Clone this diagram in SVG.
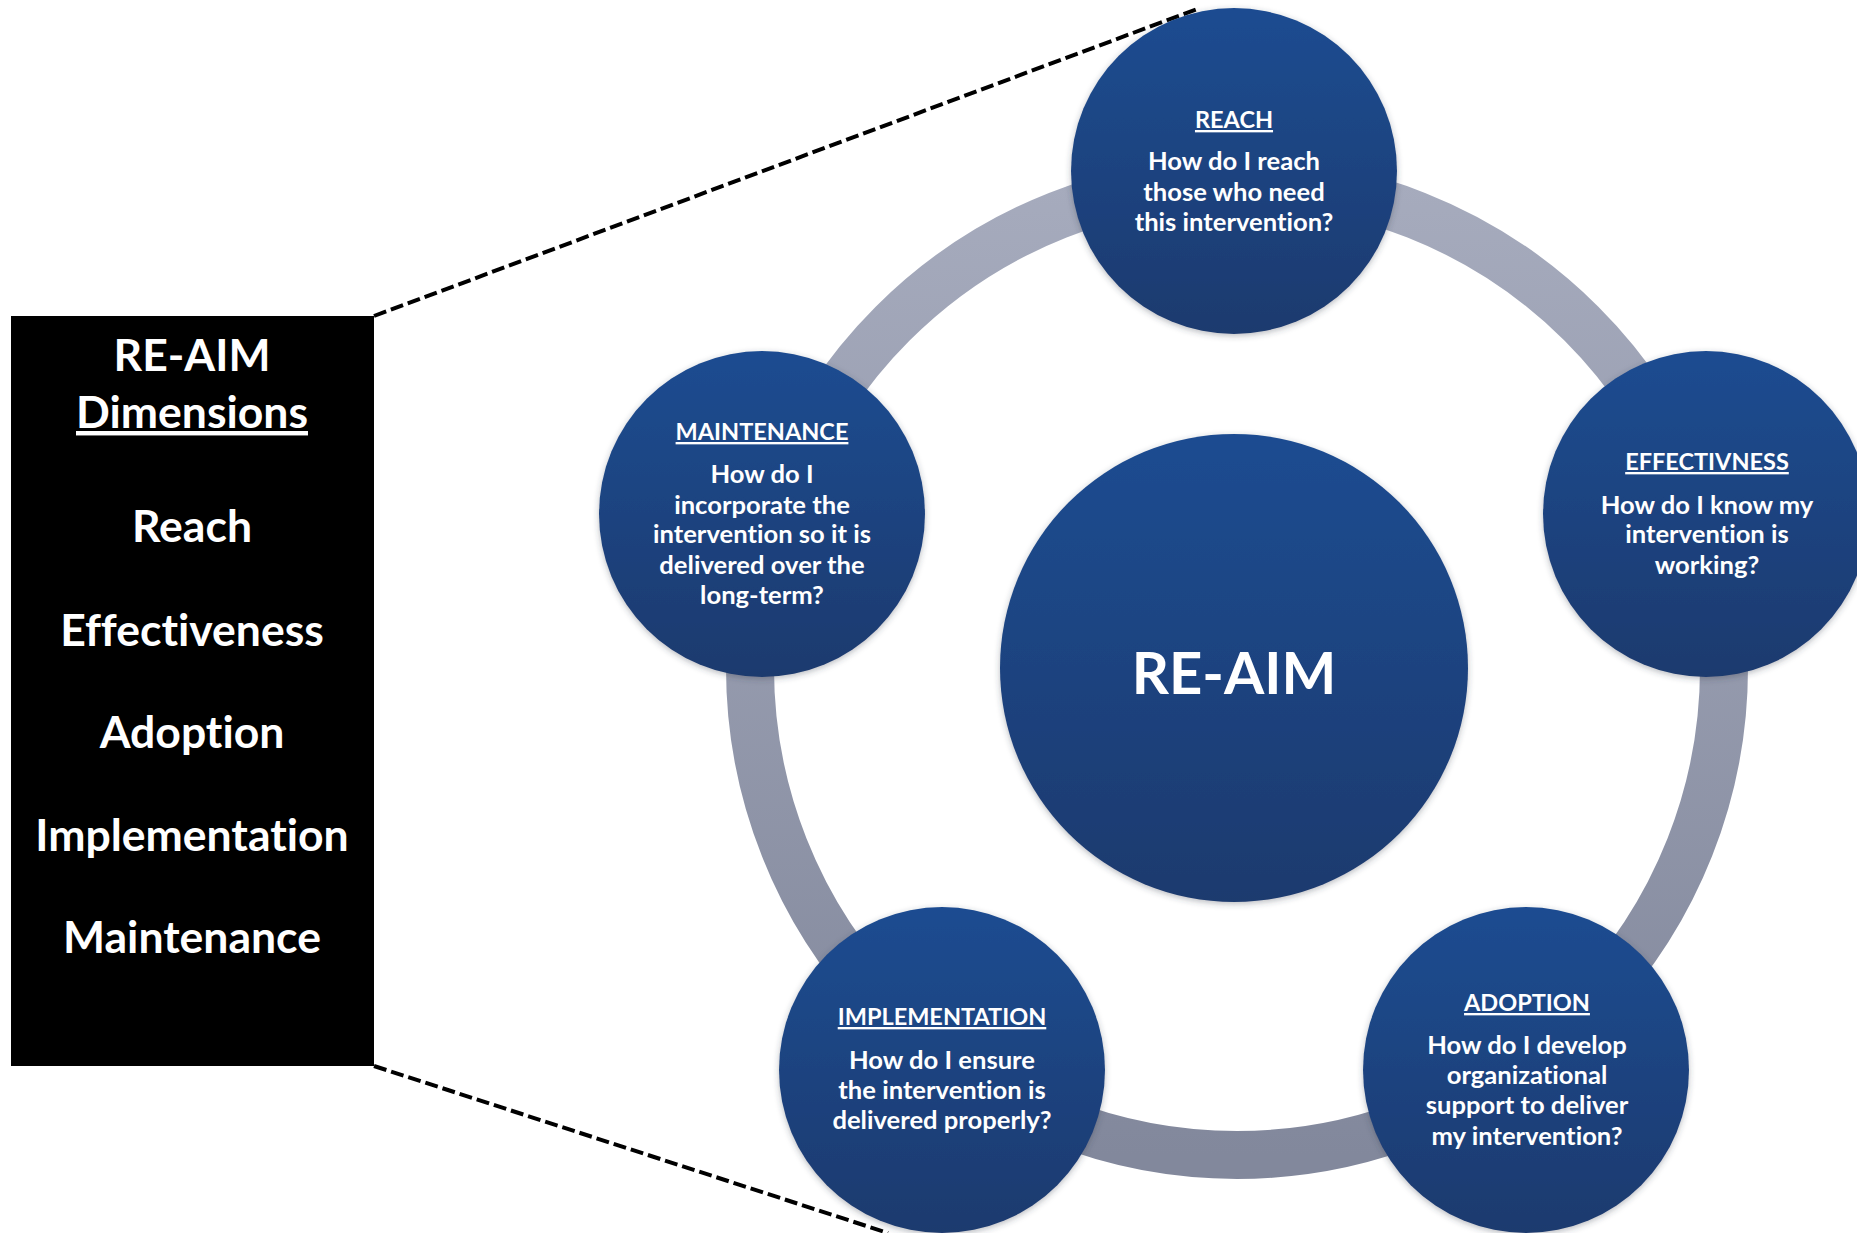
<svg xmlns="http://www.w3.org/2000/svg" width="1857" height="1233" viewBox="0 0 1857 1233">
  <style>
    text { font-family: Lato, "Open Sans", "Liberation Sans", sans-serif; font-weight: 700; fill: #ffffff; text-anchor: middle; font-variant-ligatures: none; }
    .box-t { font-size: 44.5px; }
    .head { font-size: 23.5px; text-decoration: underline; }
    .body { font-size: 25.6px; }
    .big { font-size: 58px; }
    .dash { fill: none; stroke: #000000; stroke-width: 4; stroke-dasharray: 13 5; }
    .node { fill: url(#blue); filter: url(#shadow); }
  </style>
  <defs>
    <linearGradient id="blue" x1="0" y1="0" x2="0" y2="1">
      <stop offset="0" stop-color="#1b4c91"/>
      <stop offset="1" stop-color="#1e3a6e"/>
    </linearGradient>
    <linearGradient id="ringg" x1="0" y1="0" x2="0" y2="1">
      <stop offset="0" stop-color="#a6abbd"/>
      <stop offset="1" stop-color="#82889c"/>
    </linearGradient>
    <filter id="shadow" x="-10%" y="-10%" width="120%" height="120%">
      <feDropShadow dx="0" dy="2" stdDeviation="3" flood-color="#333a4a" flood-opacity="0.35"/>
    </filter>
  </defs>
  <rect width="1857" height="1233" fill="#ffffff"/>

  <g id="connectors">
    <circle id="ring" cx="1237" cy="668" r="487" fill="none" stroke="url(#ringg)" stroke-width="48"/>
    <line class="dash" x1="374" y1="316" x2="1200" y2="8"/>
    <line class="dash" x1="374" y1="1066" x2="888" y2="1233"/>
  </g>

  <g id="dimensions-box">
    <rect x="11" y="316" width="363" height="750" fill="#000000"/>
    <text class="box-t" x="192" y="371">RE-AIM</text>
    <text class="box-t" x="192" y="428" text-decoration="underline">Dimensions</text>
    <text class="box-t" x="192" y="542">Reach</text>
    <text class="box-t" x="192" y="646">Effectiveness</text>
    <text class="box-t" x="192" y="748">Adoption</text>
    <text class="box-t" x="192" y="851">Implementation</text>
    <text class="box-t" x="192" y="953">Maintenance</text>
  </g>

  <g id="center">
    <circle class="node" cx="1234" cy="668" r="234"/>
    <text class="big" x="1234" y="694">RE-AIM</text>
  </g>

  <g id="reach">
    <circle class="node" cx="1234" cy="171" r="163"/>
    <text class="head" x="1234" y="128">REACH</text>
    <text class="body" x="1234" y="170">How do I reach</text>
    <text class="body" x="1234" y="201">those who need</text>
    <text class="body" x="1234" y="231">this intervention?</text>
  </g>

  <g id="effectiveness">
    <circle class="node" cx="1706" cy="514" r="163"/>
    <text class="head" x="1707" y="470">EFFECTIVNESS</text>
    <text class="body" x="1707" y="514">How do I know my</text>
    <text class="body" x="1707" y="543">intervention is</text>
    <text class="body" x="1707" y="574">working?</text>
  </g>

  <g id="adoption">
    <circle class="node" cx="1526" cy="1070" r="163"/>
    <text class="head" x="1527" y="1011">ADOPTION</text>
    <text class="body" x="1527" y="1054">How do I develop</text>
    <text class="body" x="1527" y="1084">organizational</text>
    <text class="body" x="1527" y="1114">support to deliver</text>
    <text class="body" x="1527" y="1145">my intervention?</text>
  </g>

  <g id="implementation">
    <circle class="node" cx="942" cy="1070" r="163"/>
    <text class="head" x="942" y="1025">IMPLEMENTATION</text>
    <text class="body" x="942" y="1069">How do I ensure</text>
    <text class="body" x="942" y="1099">the intervention is</text>
    <text class="body" x="942" y="1129">delivered properly?</text>
  </g>

  <g id="maintenance">
    <circle class="node" cx="762" cy="514" r="163"/>
    <text class="head" x="762" y="440">MAINTENANCE</text>
    <text class="body" x="762" y="483">How do I</text>
    <text class="body" x="762" y="514">incorporate the</text>
    <text class="body" x="762" y="543">intervention so it is</text>
    <text class="body" x="762" y="574">delivered over the</text>
    <text class="body" x="762" y="604">long-term?</text>
  </g>
</svg>
